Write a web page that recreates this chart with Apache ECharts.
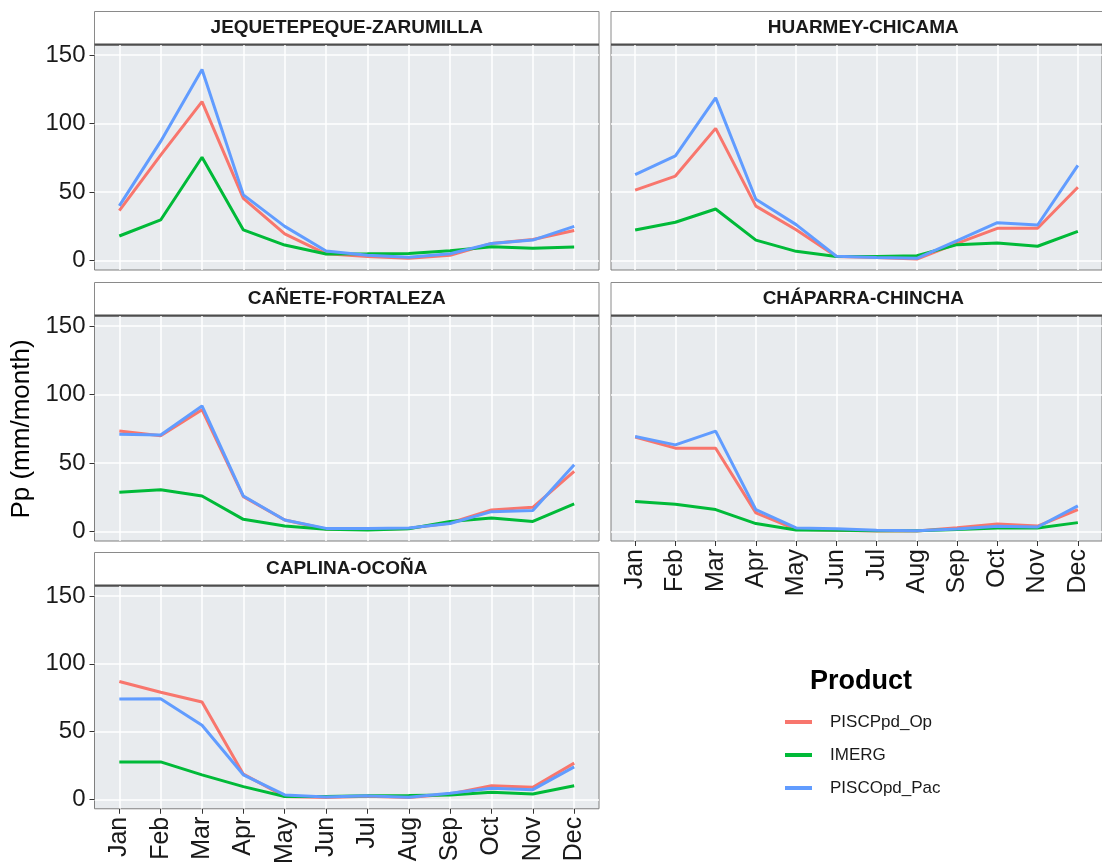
<!DOCTYPE html>
<html>
<head>
<meta charset="utf-8">
<script src="https://cdn.jsdelivr.net/npm/echarts@6/dist/echarts.min.js"></script>
<style>
  html, body { margin:0; padding:0; background:#fff; }
  #chart { width:1102px; height:867px; }
</style>
</head>
<body>
<div id="chart"></div>
<script>
const months = ['Jan','Feb','Mar','Apr','May','Jun','Jul','Aug','Sep','Oct','Nov','Dec'];
const products = ['PISCPpd_Op','IMERG','PISCOpd_Pac'];
const colors = ['#F8766D','#00BA38','#619CFF'];
const yTicks = [0, 50, 100, 150];

// JEQUETEPEQUE-ZARUMILLA
const jzOp    = [36.5, 77, 116, 45.5, 19.5, 5, 3, 1.7, 4, 12.6, 15.5, 22];
const jzImerg = [18, 29.7, 75.4, 22.4, 11.4, 4.9, 5, 5.3, 7.3, 10.2, 9, 10];
const jzPac   = [40, 87, 139.5, 48, 25, 7, 4, 2.5, 5, 12.6, 15, 25];
// HUARMEY-CHICAMA
const hcOp    = [51.5, 61.7, 96.5, 39.8, 22.6, 3, 2.4, 1.2, 12.6, 23.6, 23.6, 53.5];
const hcImerg = [22.4, 28, 37.7, 15, 6.8, 3, 3, 3.6, 11.7, 12.9, 10.5, 21.4];
const hcPac   = [62.8, 76.4, 118.7, 44.8, 26.3, 3.2, 2.4, 1.7, 14.6, 27.7, 26, 69.5];
// CAÑETE-FORTALEZA
const cfOp    = [73.4, 70, 89, 25.6, 8.5, 2, 1.7, 2.4, 6.3, 15.9, 17.8, 43.9];
const cfImerg = [28.8, 30.5, 26, 9, 4.1, 1.7, 1.2, 2.2, 7.5, 10, 7.5, 20.2];
const cfPac   = [71, 70.5, 91.7, 26, 8.5, 2.4, 2.4, 2.7, 6, 14.6, 15.4, 48.8];
// CHÁPARRA-CHINCHA
const ccOp    = [69, 60.9, 60.9, 13.7, 1.7, 1, 0.5, 0.5, 2.9, 5.6, 4.1, 16.1];
const ccImerg = [22, 20, 16.1, 5.9, 1.2, 1, 0.7, 0.7, 1.5, 2.7, 2.7, 6.6];
const ccPac   = [69.4, 63.3, 73.3, 16, 2.7, 2.2, 1, 0.7, 2, 3.9, 3.4, 18.8];
// CAPLINA-OCOÑA
const coOp    = [86.9, 79, 71.8, 18.7, 2.2, 1.5, 2.4, 1.5, 4.1, 10.2, 9, 26.8];
const coImerg = [27.7, 27.7, 18.2, 9.5, 2.2, 2.2, 2.7, 2.9, 3.4, 5.4, 4.1, 10.2];
const coPac   = [74, 74.2, 54.7, 18.2, 3.4, 1.9, 2.7, 1.7, 4.6, 8.3, 7.3, 24.1];

const basins = ['JEQUETEPEQUE-ZARUMILLA','HUARMEY-CHICAMA','CAÑETE-FORTALEZA','CHÁPARRA-CHINCHA','CAPLINA-OCOÑA'];
const basinData = [
    [jzOp, jzImerg, jzPac],
    [hcOp, hcImerg, hcPac],
    [cfOp, cfImerg, cfPac],
    [ccOp, ccImerg, ccPac],
    [coOp, coImerg, coPac]
];

// panel layout: left, top, show y labels, show x labels
const panelW = 504.5;
const stripH = 33.5;
const panels = [
    { left:94.5, top:45,  h:225, yLab:true,  xLab:false },
    { left:611,  top:45,  h:225, yLab:false, xLab:false },
    { left:94.5, top:316, h:225, yLab:true,  xLab:false },
    { left:611,  top:316, h:225, yLab:false, xLab:true },
    { left:94.5, top:586, h:226, yLab:true,  xLab:true }
];

const font = '"Liberation Sans", Arial, Helvetica, sans-serif';
const monthIdx = months.map((m,i)=>i);

const chart = echarts.init(document.getElementById('chart'), null, { renderer:'canvas' });

const grids = [], xAxes = [], yAxes = [], series = [], graphics = [];
panels.forEach((p, k)=>{
    grids.push({
        left:p.left, top:p.top, width:panelW, height:p.h,
        show:true, backgroundColor:'#E8EBEE', borderColor:'#7f7f7f', borderWidth:1,
        containLabel:false
    });
    xAxes.push({
        gridIndex:k, type:'value', min:-0.6, max:11.6, position:'bottom',
        axisLine:{ show:false, onZero:false },
        axisTick:{ show:p.xLab, customValues:monthIdx, length:5, lineStyle:{ color:'#333', width:1 } },
        axisLabel:{
            show:p.xLab, customValues:monthIdx, rotate:90, margin:8,
            fontFamily:font, fontSize:25, color:'#1a1a1a',
            formatter:v=>months[Math.round(v)]
        },
        splitLine:{ show:true, lineStyle:{ color:'#ffffff', width:1.5 } }
    });
    yAxes.push({
        gridIndex:k, type:'value', min:-6.8, max:157.3, position:'left',
        axisLine:{ show:false, onZero:false },
        axisTick:{ show:p.yLab, customValues:yTicks, length:5, lineStyle:{ color:'#333', width:1 } },
        axisLabel:{
            show:p.yLab, customValues:yTicks, margin:9,
            fontFamily:font, fontSize:24, color:'#1a1a1a'
        },
        splitLine:{ show:true, lineStyle:{ color:'#ffffff', width:1.5 } }
    });
    basinData[k].forEach((vals, j)=>{
        series.push({
            type:'line', name:products[j],
            xAxisIndex:k, yAxisIndex:k,
            data:vals.map((v,i)=>[i, v]),
            symbol:'none', silent:true,
            lineStyle:{ color:colors[j], width:3 },
            itemStyle:{ color:colors[j] },
            z:2 + j
        });
    });
    // strip
    graphics.push({
        type:'rect', silent:true,
        shape:{ x:p.left, y:p.top - stripH, width:panelW, height:stripH },
        style:{ fill:'#ffffff', stroke:'#8a8a8a', lineWidth:1 }
    });
    graphics.push({
        type:'line', silent:true,
        shape:{ x1:p.left, y1:p.top - 0.5, x2:p.left + panelW, y2:p.top - 0.5 },
        style:{ stroke:'#4d4d4d', lineWidth:2 }
    });
    graphics.push({
        type:'text', silent:true,
        style:{
            text:basins[k], x:p.left + panelW/2, y:p.top - stripH/2,
            align:'center', verticalAlign:'middle',
            font:'bold 19px ' + font, fill:'#1a1a1a'
        }
    });
});

// y axis title
graphics.push({
    type:'text', silent:true, x:22, y:429, rotation:Math.PI/2,
    style:{ text:'Pp (mm/month)', align:'center', verticalAlign:'middle', font:'26px ' + font, fill:'#000' }
});
// legend title
graphics.push({
    type:'text', silent:true,
    style:{ text:'Product', x:861, y:682, align:'center', verticalAlign:'middle', font:'bold 27px ' + font, fill:'#000' }
});

const option = {
    animation:false,
    backgroundColor:'#ffffff',
    grid:grids,
    xAxis:xAxes,
    yAxis:yAxes,
    legend:{
        data:products.map((n,j)=>({ name:n, icon:'rect', itemStyle:{ color:colors[j] } })),
        orient:'vertical', left:785, top:713, padding:0,
        itemWidth:27, itemHeight:4, itemGap:15,
        selectedMode:false,
        textStyle:{ fontFamily:font, fontSize:17, color:'#1a1a1a', lineHeight:18, padding:[0,0,0,13] }
    },
    graphic:graphics,
    series:series
};
chart.setOption(option);
</script>
</body>
</html>
